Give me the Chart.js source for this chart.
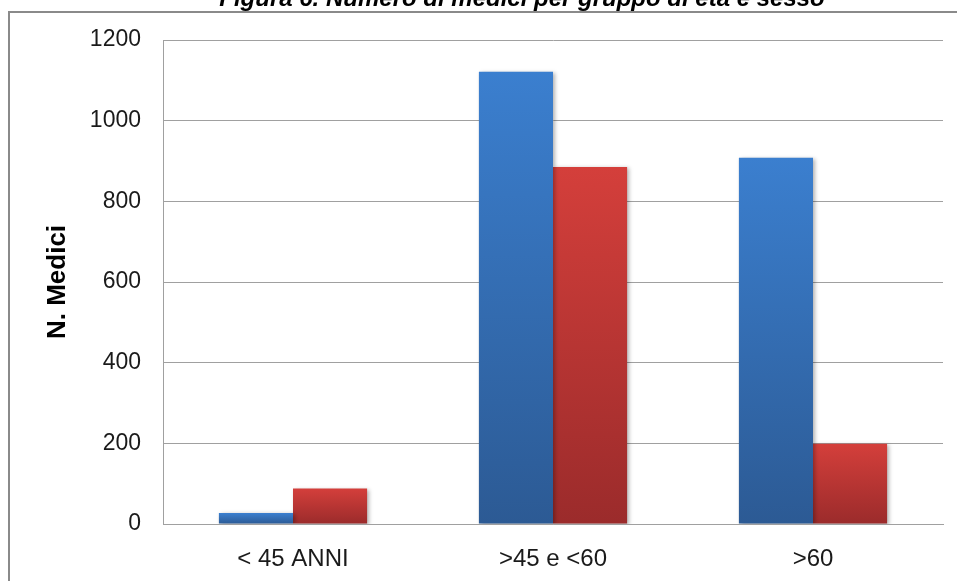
<!DOCTYPE html>
<html><head><meta charset="utf-8">
<script src="https://cdn.jsdelivr.net/npm/chart.js@4/dist/chart.umd.min.js"></script>
<style>html,body{margin:0;padding:0;background:#fff}#wrap{width:957px;height:581px;position:relative}</style>
</head><body><div id="wrap"><canvas id="c" width="957" height="581"></canvas></div>
<script>
const chartTitle = 'Figura 6. Numero di medici per gruppo di età e sesso';
const categories = ['< 45 ANNI', '>45 e <60', '>60'];
const maschi = [27, 1121, 908];
const femmine = [88, 885, 199];
const yTicks = [0, 200, 400, 600, 800, 1000, 1200];
const yTitle = 'N. Medici';

function grad(top, bottom) {
  return function(ctx) {
    const chart = ctx.chart;
    const ys = chart.scales && chart.scales.y;
    if (!chart.chartArea || !ys || ctx.raw === undefined) return top;
    const y0 = ys.getPixelForValue(ctx.raw);
    const y1 = ys.getPixelForValue(0);
    if (!isFinite(y0) || !isFinite(y1) || y0 === y1) return top;
    const g = chart.ctx.createLinearGradient(0, y0, 0, y1);
    g.addColorStop(0, top);
    g.addColorStop(1, bottom);
    return g;
  };
}

const FONT = '"Liberation Sans", Arial, sans-serif';

const framePlugin = {
  id: 'frame',
  beforeDraw(chart) {
    const c = chart.ctx;
    c.save();
    c.fillStyle = '#fff';
    c.fillRect(0, 0, chart.width, chart.height);
    c.strokeStyle = '#8a8a8a';
    c.lineWidth = 2;
    c.strokeRect(9, 12, chart.width + 20, chart.height + 20);
    c.font = 'italic bold 24px ' + FONT;
    c.fillStyle = '#000';
    c.textAlign = 'center';
    c.textBaseline = 'alphabetic';
    c.fillText(chartTitle, 522, 6);
    c.restore();
  },
  beforeDatasetsDraw(chart) {
    const c = chart.ctx;
    c.save();
    c.shadowColor = 'rgba(0,0,0,0.3)';
    c.shadowBlur = 4;
    c.shadowOffsetX = 2;
    c.shadowOffsetY = 1;
  },
  afterDatasetsDraw(chart) {
    chart.ctx.restore();
  }
};

new Chart(document.getElementById('c'), {
  type: 'bar',
  data: {
    labels: categories,
    datasets: [
      { label: 'Maschi', data: maschi, backgroundColor: grad('#3b7fcf', '#2c5a94'), borderWidth: 0 },
      { label: 'Femmine', data: femmine, backgroundColor: grad('#d43f3b', '#9b2b2b'), borderWidth: 0 }
    ]
  },
  options: {
    responsive: false,
    animation: false,
    devicePixelRatio: 1,
    layout: { padding: { left: 0, right: 14, top: 40, bottom: 0 } },
    plugins: { legend: { display: false }, tooltip: { enabled: false }, title: { display: false } },
    datasets: { bar: { barPercentage: 1, categoryPercentage: 0.57 } },
    scales: {
      x: {
        grid: { display: false, drawTicks: false },
        border: { display: true, color: '#a0a0a0', width: 1 },
        ticks: { color: '#1a1a1a', font: { family: FONT, size: 24 }, padding: 21, maxRotation: 0 },
        afterFit(s) { s.height = 57; }
      },
      y: {
        min: 0, max: 1200,
        afterBuildTicks(s) { s.ticks = yTicks.map(v => ({ value: v })); },
        grid: { color: '#a0a0a0', lineWidth: 1, drawTicks: false },
        border: { display: true, color: '#a0a0a0', width: 1 },
        ticks: { color: '#1a1a1a', font: { family: FONT, size: 23 }, padding: 22, callback: v => String(v) },
        title: { display: true, text: yTitle, color: '#000', font: { family: FONT, size: 26, weight: 'bold' }, padding: { top: 42, bottom: 0 } },
        afterFit(s) { s.width = 163; }
      }
    }
  },
  plugins: [framePlugin]
});
</script>
</body></html>
